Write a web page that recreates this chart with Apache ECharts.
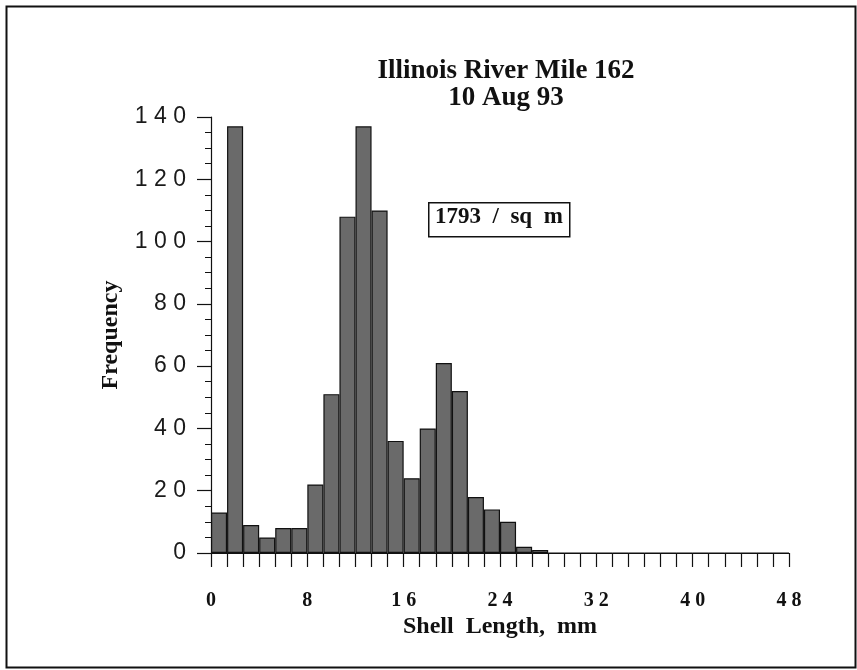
<!DOCTYPE html>
<html>
<head>
<meta charset="utf-8">
<script src="https://cdn.jsdelivr.net/npm/echarts@6/dist/echarts.min.js"></script>
<style>html,body{margin:0;padding:0;background:#fff}#c{width:857px;height:670px}</style>
</head>
<body>
<div id="c"></div>
<script>
// 36 bins of 4/3 mm across 0–48 mm
var binLabels = [];
for (var i = 0; i < 36; i++) binLabels.push('bin' + i);
var frequency = [13,137,9,5,8,8,22,51,108,137,110,36,24,40,61,52,18,14,10,2,1,0,0,0,0,0,0,0,0,0,0,0,0,0,0,0];
var xTickLabels = [0, 8, 16, 24, 32, 40, 48];
var yTickLabels = [0, 20, 40, 60, 80, 100, 120, 140];
var titleLines = ['Illinois River Mile 162', '10 Aug 93'];
var annotation = '1793  /  sq  m';

function spaced(v) { return String(v).split('').join(' '); }

var chart = echarts.init(document.getElementById('c'));
chart.setOption({
  animation: false,
  backgroundColor: '#fff',
  title: {
    text: titleLines.join('\n'),
    left: 501, top: 53, textAlign: 'center',
    textStyle: { fontFamily: 'Liberation Serif', fontWeight: 'bold', fontSize: 27, lineHeight: 27, color: '#111' }
  },
  grid: { left: 211, right: 68, top: 117, bottom: 117 },
  xAxis: [{
    type: 'category', data: binLabels, boundaryGap: true,
    axisLine: { lineStyle: { color: '#111', width: 1.2 } },
    axisTick: { show: true, length: 14, interval: 0, lineStyle: { color: '#111', width: 1.2 } },
    axisLabel: { show: false },
    name: 'Shell  Length,  mm', nameLocation: 'middle', nameGap: 62,
    nameTextStyle: { fontFamily: 'Liberation Serif', fontWeight: 'bold', fontSize: 24, color: '#111' }
  }, {
    type: 'value', min: xTickLabels[0], max: xTickLabels[xTickLabels.length - 1], interval: 8, position: 'bottom',
    axisLine: { show: false }, axisTick: { show: false }, splitLine: { show: false },
    axisLabel: { margin: 38, fontFamily: 'Liberation Serif', fontWeight: 'bold', fontSize: 20, color: '#111',
      formatter: function (v) { return spaced(v); } }
  }],
  yAxis: {
    type: 'value', min: yTickLabels[0], max: yTickLabels[yTickLabels.length - 1], interval: 20,
    axisLine: { show: true, lineStyle: { color: '#111', width: 1.2 } },
    axisTick: { show: true, length: 14, lineStyle: { color: '#111', width: 1.2 } },
    minorTick: { show: true, splitNumber: 4, length: 6, lineStyle: { color: '#111', width: 1 } },
    splitLine: { show: false },
    axisLabel: { margin: 25, fontFamily: 'Liberation Sans', fontSize: 23, color: '#1a1a1a',
      formatter: function (v) { return spaced(v); } },
    name: 'Frequency', nameLocation: 'middle', nameGap: 88, nameRotate: 90,
    nameTextStyle: { fontFamily: 'Liberation Serif', fontWeight: 'bold', fontSize: 24, color: '#111' }
  },
  series: [{
    type: 'bar', xAxisIndex: 0, data: frequency, barCategoryGap: '0%',
    itemStyle: { color: '#6a6a6a', borderColor: '#111', borderWidth: 1.2 }
  }],
  graphic: [
    { type: 'rect', left: 4, top: 4, shape: { width: 849, height: 661 }, style: { fill: 'none', stroke: '#111', lineWidth: 2 } },
    { type: 'rect', left: 428, top: 202, shape: { width: 141, height: 34 }, style: { fill: '#fff', stroke: '#111', lineWidth: 1.5 } },
    { type: 'text', left: 435, top: 206, style: { text: annotation, fontFamily: 'Liberation Serif', fontWeight: 'bold', fontSize: 23, fill: '#111' } }
  ]
});
</script>
</body>
</html>
